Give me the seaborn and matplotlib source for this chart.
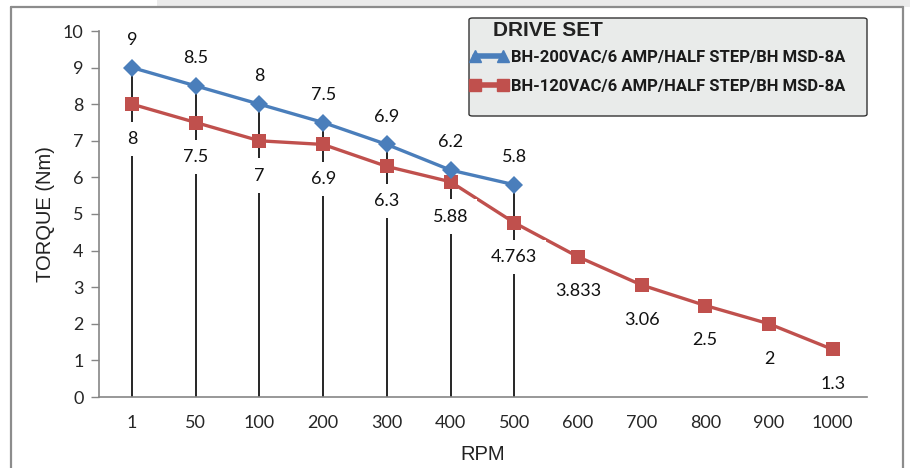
import numpy as np
import pandas as pd
import seaborn as sns
import matplotlib.pyplot as plt
from matplotlib.lines import Line2D
from matplotlib.patches import Rectangle, FancyBboxPatch

rpm = ["1", "50", "100", "200", "300", "400", "500", "600", "700", "800", "900", "1000"]
torque_200vac = [9, 8.5, 8, 7.5, 6.9, 6.2, 5.8]
torque_120vac = [8, 7.5, 7, 6.9, 6.3, 5.88, 4.763, 3.833, 3.06, 2.5, 2, 1.3]
label_200vac = "BH-200VAC/6 AMP/HALF STEP/BH MSD-8A"
label_120vac = "BH-120VAC/6 AMP/HALF STEP/BH MSD-8A"
legend_title = "DRIVE SET"

BLUE = "#4a7ebb"
RED = "#c0504d"
AXIS_GRAY = "#868686"

sns.set_theme(style="white")
plt.rcParams["font.family"] = ["Lato", "DejaVu Sans"]

rpm_cat = pd.CategoricalDtype(rpm, ordered=True)
df_200 = pd.DataFrame({"rpm": pd.Series(rpm[:len(torque_200vac)], dtype=rpm_cat),
                       "torque": torque_200vac})
df_120 = pd.DataFrame({"rpm": pd.Series(rpm, dtype=rpm_cat), "torque": torque_120vac})

fig = plt.figure(figsize=(9.1, 4.68), dpi=100)
ax = fig.add_axes([99 / 910, 1 - 397 / 468, (867 - 99) / 910, (397 - 31) / 468])

# outer frame like the source image
fig.patches.append(Rectangle((157 / 910, 1 - 7 / 468), 1, 7 / 468, transform=fig.transFigure,
                             facecolor="#ebebeb", edgecolor="none", zorder=0))
for xs, ys in [([11, 11], [7, 470]), ([11, 903], [7, 7]), ([903, 903], [7, 470])]:
    fig.lines.append(Line2D([x / 910 for x in xs], [1 - y / 468 for y in ys],
                            transform=fig.transFigure, color="#8c8c8c", lw=1.6))

# drop lines from the axis to the upper series
ax.vlines(np.arange(len(torque_200vac)), 0, torque_200vac, color="black", lw=1.2, zorder=1)

sns.lineplot(data=df_200, x="rpm", y="torque", ax=ax, color=BLUE, lw=2.4, marker="D",
             markersize=9, markeredgewidth=0, zorder=3)
sns.lineplot(data=df_120, x="rpm", y="torque", ax=ax, color=RED, lw=2.4, marker="s",
             markersize=10.5, markeredgewidth=0, zorder=2)

for i, v in enumerate(torque_200vac):
    ax.annotate(f"{v:g}", (i, v), xytext=(0, 20), textcoords="offset points",
                ha="center", va="center", fontsize=13, color="#111", zorder=5)
for i, v in enumerate(torque_120vac):
    ax.annotate(f"{v:g}", (i, v), xytext=(0, -25), textcoords="offset points",
                ha="center", va="center", fontsize=13, color="#111", zorder=4,
                bbox=dict(boxstyle="square,pad=0.5", fc="white", ec="none"))

ax.set_xlim(-0.52, 11.54)
ax.set_ylim(0, 10)
ax.set_yticks(range(0, 11))
ax.set_xlabel("RPM", family=["Liberation Sans"], fontsize=14.5, color="#222", labelpad=10)
ax.set_ylabel("TORQUE (Nm)", family=["Liberation Sans"], fontsize=14.5, color="#222", labelpad=6)
ax.tick_params(axis="y", direction="out", length=6, color=AXIS_GRAY, width=1,
               labelsize=13, pad=5, left=True)
ax.tick_params(axis="x", length=0, labelsize=13, pad=13)
for side in ["top", "right"]:
    ax.spines[side].set_visible(False)
for side in ["left", "bottom"]:
    ax.spines[side].set_color(AXIS_GRAY)
    ax.spines[side].set_linewidth(1.2)
    ax.spines[side].set_zorder(6)

# legend box
fig.patches.append(FancyBboxPatch((469 / 910, 1 - 116 / 468), 398 / 910, 98 / 468,
                                  boxstyle="round,pad=0,rounding_size=0.004",
                                  transform=fig.transFigure, facecolor="#e9ebea",
                                  edgecolor="#333333", lw=1, zorder=5))
fig.text(493 / 910, 1 - 31 / 468, legend_title, ha="left", va="center", fontsize=15,
         fontweight="bold", family=["Liberation Sans", "DejaVu Sans"], color="#222", zorder=6)
handles = [Line2D([], [], color=BLUE, lw=4, marker="^", markersize=8),
           Line2D([], [], color=RED, lw=4, marker="s", markersize=8)]
leg = fig.legend(handles, [label_200vac, label_120vac], loc="upper left",
                 bbox_to_anchor=(470 / 910, 1 - 50 / 468), frameon=False, numpoints=2,
                 handlelength=2.3, handletextpad=0.15, labelspacing=0.85, borderpad=0,
                 borderaxespad=0,
                 prop={"family": ["Liberation Sans Narrow", "Roboto", "DejaVu Sans"],
                       "weight": "bold", "size": 12})
for txt in leg.get_texts():
    txt.set_color("#1a1a1a")
leg.set_zorder(6)

fig.savefig("out.png", dpi=100, facecolor="white")
